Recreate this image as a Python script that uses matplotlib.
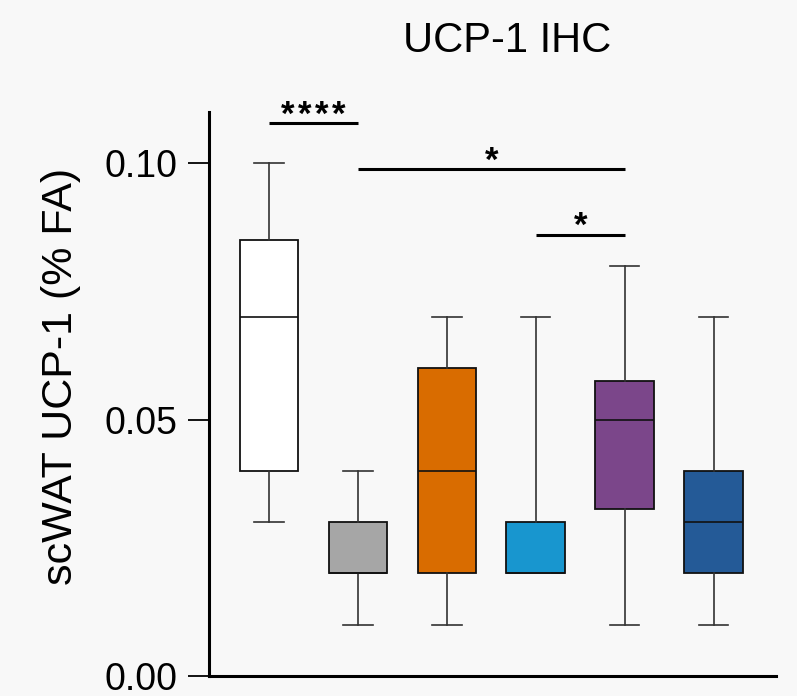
import matplotlib
matplotlib.use('Agg')
import matplotlib.pyplot as plt

plt.rcParams['font.family'] = ['Liberation Sans', 'DejaVu Sans']

# group summary stats (fraction area)
groups = ['g1', 'g2', 'g3', 'g4', 'g5', 'g6']
whislo = [0.030, 0.010, 0.010, 0.020, 0.010, 0.010]
q1 = [0.040, 0.020, 0.020, 0.020, 0.0325, 0.020]
med = [0.070, 0.020, 0.040, 0.020, 0.050, 0.030]
q3 = [0.085, 0.030, 0.060, 0.030, 0.0575, 0.040]
whishi = [0.100, 0.040, 0.070, 0.070, 0.080, 0.070]
colors = ['#ffffff', '#a6a6a6', '#d96c00', '#1896cf', '#7b468a', '#245a97']

# significance brackets: (from group, to group, height, number of stars)
sig_from = [1, 2, 4]
sig_to = [2, 5, 5]
sig_y = [0.1078, 0.0988, 0.0861]
sig_stars = [4, 1, 1]

bg = '#f8f8f8'
fig = plt.figure(figsize=(7.97, 6.96), dpi=100, facecolor=bg)
ax = fig.add_axes([209 / 797, 20 / 696, 567 / 797, 564 / 696], facecolor=bg)

stats = []
for i, g in enumerate(groups):
    stats.append(dict(label=g, whislo=whislo[i], q1=q1[i], med=med[i],
                      q3=q3[i], whishi=whishi[i], fliers=[]))

pos = list(range(1, len(groups) + 1))
bp = ax.bxp(stats, positions=pos, widths=0.66, capwidths=0.33,
            showfliers=False, patch_artist=True,
            boxprops=dict(edgecolor='#111111', linewidth=1.3),
            medianprops=dict(color='#111111', linewidth=1.2),
            whiskerprops=dict(color='#333333', linewidth=1.2),
            capprops=dict(color='#333333', linewidth=1.2))
for patch, c in zip(bp['boxes'], colors):
    patch.set_facecolor(c)

for a, b, y, n in zip(sig_from, sig_to, sig_y, sig_stars):
    ax.plot([a, b], [y, y], color='black', linewidth=2.2, solid_capstyle='butt')
    for k in range(n):
        ax.annotate('*', xy=((a + b) / 2, y),
                    xytext=((k - (n - 1) / 2) * 12.3, -1),
                    textcoords='offset points', ha='center', va='baseline',
                    fontsize=25, fontweight='bold')

ax.set_xlim(0.326, 6.70)
ax.set_ylim(0, 0.110)
ax.set_yticks([0.00, 0.05, 0.10])
ax.set_yticklabels(['0.00', '0.05', '0.10'])
ax.set_xticks([])
ax.tick_params(axis='y', direction='out', length=15, width=1.3, pad=8,
               labelsize=27)
for s in ['top', 'right']:
    ax.spines[s].set_visible(False)
for s in ['left', 'bottom']:
    ax.spines[s].set_linewidth(2.2)

fig.text(61 / 797, 1 - 376 / 696, 'scWAT UCP-1 (% FA)', rotation=90,
         ha='center', va='center', fontsize=31)
fig.text(507 / 797, 1 - 52 / 696, 'UCP-1 IHC', ha='center', va='baseline',
         fontsize=30)

fig.savefig('out.png', dpi=100, facecolor=bg)
